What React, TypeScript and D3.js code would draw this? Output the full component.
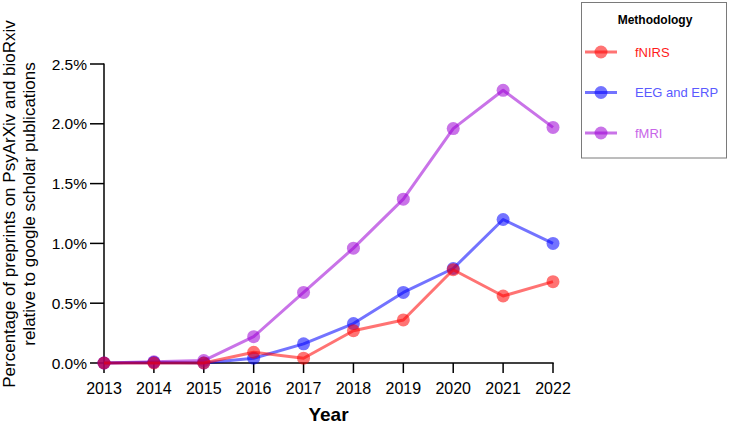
import React from "react";
import * as d3 from "d3";

const years = [2013, 2014, 2015, 2016, 2017, 2018, 2019, 2020, 2021, 2022];
const fnirs = [0, 0, 0, 0.09, 0.04, 0.27, 0.36, 0.78, 0.56, 0.68];
const eeg = [0, 0.005, 0, 0.04, 0.16, 0.33, 0.59, 0.79, 1.2, 1.0];
const fmri = [0, 0.01, 0.02, 0.22, 0.59, 0.96, 1.37, 1.96, 2.28, 1.97];
const yTicks = [0, 0.5, 1.0, 1.5, 2.0, 2.5];
const seriesNames = ["fNIRS", "EEG and ERP", "fMRI"];
const seriesColors = ["#ff0000", "#0000ff", "#9c00d6"];
const seriesTextColors = ["#ff1a1a", "#5a5aff", "#c866e8"];

const W = 729;
const H = 425;
const FONT = "Liberation Sans, Arial, sans-serif";

export default function App() {
  const x = d3.scaleLinear().domain([2013, 2022]).range([104, 553]);
  const y = d3.scaleLinear().domain([0, 2.5]).range([363, 64]);
  const line = d3
    .line<number>()
    .x((_, i) => x(years[i]))
    .y((d) => y(d));
  const data = [fnirs, eeg, fmri];
  const drawOrder = [2, 1, 0];
  const op = 0.55;

  return (
    <svg
      width={W}
      height={H}
      style={{ position: "absolute", left: 0, top: 0, background: "#fff" }}
      fontFamily={FONT}
    >
      <rect x={0} y={0} width={W} height={H} fill="#fff" />
      {/* y axis title */}
      <g transform={`translate(0,204) rotate(-90)`}>
        <text x={0} y={15} textAnchor="middle" fontSize={17} fill="#000">
          Percentage of preprints on PsyArXiv and bioRxiv
        </text>
        <text x={0} y={35} textAnchor="middle" fontSize={17} fill="#000">
          relative to google scholar publications
        </text>
      </g>
      {/* y ticks */}
      {yTicks.map((t) => (
        <g key={t}>
          <line x1={90} x2={104} y1={y(t)} y2={y(t)} stroke="#000" strokeWidth={1.5} />
          <text
            x={87}
            y={y(t)}
            dy="0.36em"
            textAnchor="end"
            fontSize={15.5}
            fill="#000"
          >
            {t.toFixed(1)}%
          </text>
        </g>
      ))}
      {/* x ticks */}
      {years.map((yr) => (
        <g key={yr}>
          <line x1={x(yr)} x2={x(yr)} y1={363} y2={373} stroke="#000" strokeWidth={1.5} />
          <text x={x(yr)} y={394} textAnchor="middle" fontSize={16} fill="#000">
            {yr}
          </text>
        </g>
      ))}
      <line x1={104} x2={104} y1={63.5} y2={363} stroke="#000" strokeWidth={1.5} />
      <line x1={103.3} x2={553.7} y1={363} y2={363} stroke="#000" strokeWidth={1.5} />
      <text
        x={328.5}
        y={421}
        textAnchor="middle"
        fontSize={19}
        fontWeight="bold"
        fill="#000"
      >
        Year
      </text>
      {/* series */}
      {drawOrder.map((si) => (
        <g key={si}>
          <path
            d={line(data[si]) || ""}
            fill="none"
            stroke={seriesColors[si]}
            strokeOpacity={op}
            strokeWidth={3}
            strokeLinejoin="round"
          />
          {data[si].map((v, i) => (
            <circle
              key={i}
              cx={x(years[i])}
              cy={y(v)}
              r={6.5}
              fill={seriesColors[si]}
              fillOpacity={op}
            />
          ))}
        </g>
      ))}
      {/* legend */}
      <rect x={581.5} y={2.5} width={145} height={155.5} fill="#fff" stroke="#7a7a7a" strokeWidth={1} />
      <text x={655} y={24} textAnchor="middle" fontSize={12} fontWeight="bold" fill="#000">
        Methodology
      </text>
      {seriesNames.map((name, i) => {
        const cy = 52 + i * 40.5;
        return (
          <g key={name}>
            <line x1={585} x2={617} y1={cy} y2={cy} stroke={seriesColors[i]} strokeOpacity={op} strokeWidth={3} />
            <circle cx={601} cy={cy} r={6.5} fill={seriesColors[i]} fillOpacity={op} />
            <text x={635} y={cy} dy="0.35em" fontSize={13} fill={seriesTextColors[i]}>
              {name}
            </text>
          </g>
        );
      })}
    </svg>
  );
}
